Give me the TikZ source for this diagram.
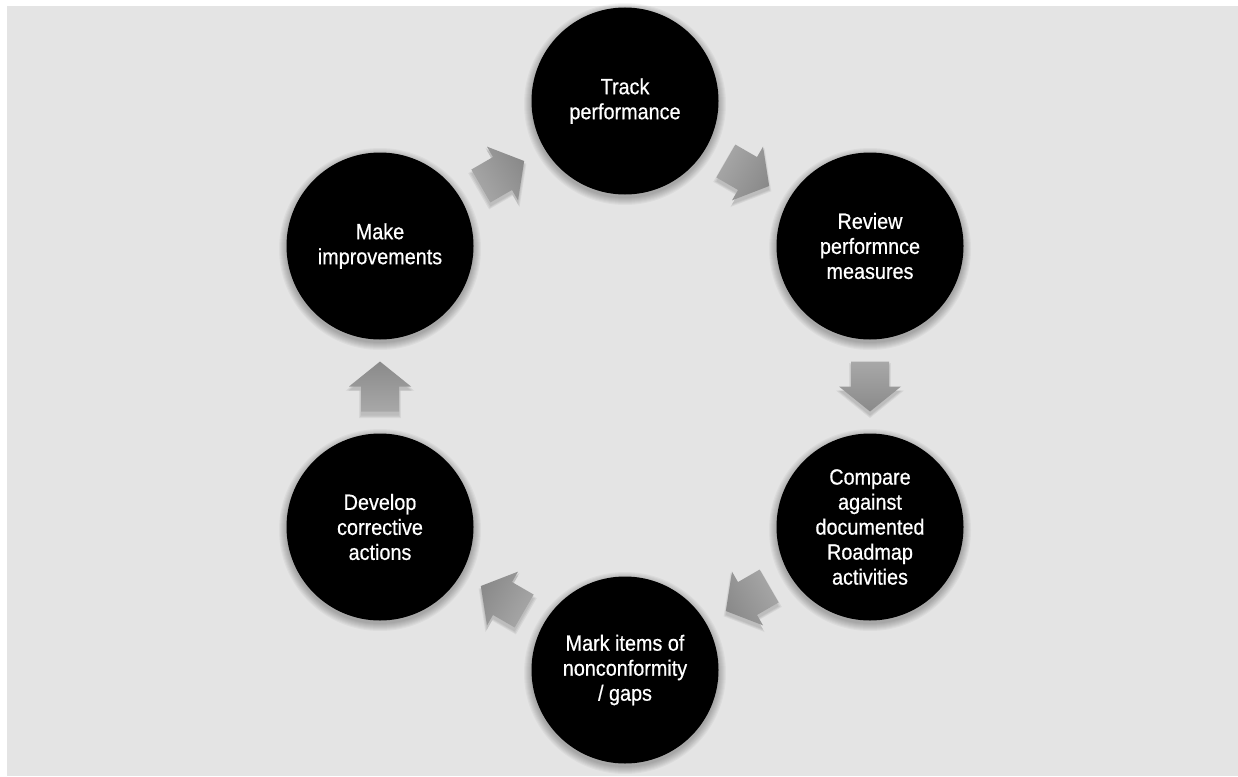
\documentclass[tikz,border=0pt]{standalone}
\usepackage{fontspec}
\setmainfont{Liberation Sans}[FakeStretch=0.9,FakeBold=0.6]
\usetikzlibrary{calc}

\definecolor{bggray}{HTML}{E4E4E4}
\definecolor{arrowlight}{HTML}{A8A8A8}
\definecolor{arrowdark}{HTML}{8A8A8A}

\pgfdeclarelayer{back}
\pgfdeclarelayer{shade}
\pgfsetlayers{back,shade,main}

\tikzset{
  stage/.style={circle, fill=black, minimum size=187pt, inner sep=0pt,
    text=white, align=center, font=\fontsize{22}{25}\selectfont},
  softshadow/.style={fill=black, opacity=0.035}
}

% soft halo under a stage
\newcommand\stageshadow[1]{%
  \begin{pgfonlayer}{shade}
    \foreach \r in {94,95,...,101}
      {\fill[softshadow] ($(#1)+(0,3)$) circle (\r);}
  \end{pgfonlayer}}

% block arrow halfway between two stages, pointing along the cycle
% #3: direction of the arrow, #4: angle of the gradient (light tail, dark head)
\newcommand\cyclearrow[4]{%
  \begin{pgfonlayer}{shade}
    \foreach \s in {1.0,1.05,1.1}
      {\fill[black, opacity=0.06, shift={($(#1)!0.5!(#2)+(0,4)$)}, rotate=#3, scale=\s]
        (-25,-19) -- (0,-19) -- (0,-31) -- (25,0)
        -- (0,31) -- (0,19) -- (-25,19) -- cycle;}
  \end{pgfonlayer}
  \shade[shading=axis, top color=arrowlight, bottom color=arrowdark,
         shading angle=#4, shift={($(#1)!0.5!(#2)$)}, rotate=#3]
    (-25,-19) -- (0,-19) -- (0,-31) -- (25,0)
    -- (0,31) -- (0,19) -- (-25,19) -- cycle;}

\begin{document}
\begin{tikzpicture}[x=1pt,y=-1pt]
  \useasboundingbox (0,0) rectangle (1238,776);
  \begin{pgfonlayer}{back}
    \fill[white] (0,0) rectangle (1238,776);
    \fill[bggray] (7,6) rectangle (1238,776);
  \end{pgfonlayer}

  \node[stage] (track)   at (625,101) {Track\\performance};
  \node[stage] (review)  at (870,246) {Review\\performnce\\measures};
  \node[stage] (compare) at (870,527) {Compare\\against\\documented\\Roadmap\\activities};
  \node[stage] (mark)    at (625,670) {Mark items of\\nonconformity\\/ gaps};
  \node[stage] (develop) at (380,527) {Develop\\corrective\\actions};
  \node[stage] (make)    at (380,246) {Make\\improvements};

  \foreach \n in {track,review,compare,mark,develop,make}
    {\stageshadow{\n}}

  \cyclearrow{track}{review}{-30}{60}
  \cyclearrow{review}{compare}{-90}{0}
  \cyclearrow{compare}{mark}{-150}{-60}
  \cyclearrow{mark}{develop}{150}{240}
  \cyclearrow{develop}{make}{90}{180}
  \cyclearrow{make}{track}{30}{120}
\end{tikzpicture}
\end{document}
